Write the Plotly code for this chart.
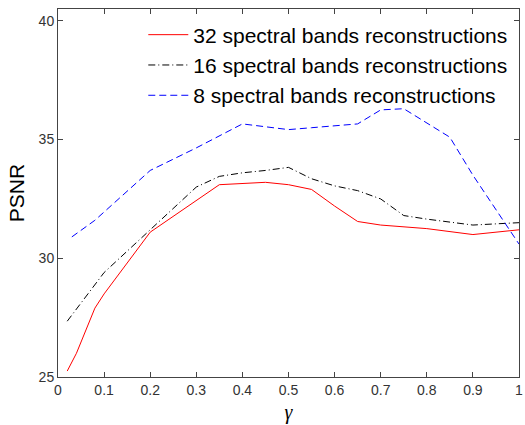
import plotly.graph_objects as go

# PSNR vs. gamma for three spectral band counts
gamma_32 = [0.02, 0.04, 0.08, 0.10, 0.20, 0.35, 0.45, 0.50, 0.55, 0.60, 0.65, 0.70, 0.80, 0.90, 1.00]
psnr_32 = [25.25, 26.0, 27.9, 28.5, 31.1, 33.1, 33.2, 33.1, 32.9, 32.2, 31.55, 31.4, 31.25, 31.0, 31.2]

gamma_16 = [0.02, 0.10, 0.20, 0.30, 0.35, 0.40, 0.45, 0.50, 0.55, 0.60, 0.65, 0.70, 0.75, 0.80, 0.90, 1.00]
psnr_16 = [27.35, 29.4, 31.2, 33.0, 33.45, 33.6, 33.7, 33.83, 33.35, 33.05, 32.85, 32.5, 31.8, 31.65, 31.4, 31.5]

gamma_8 = [0.03, 0.08, 0.20, 0.30, 0.40, 0.45, 0.50, 0.55, 0.60, 0.65, 0.70, 0.75, 0.85, 0.90, 1.00]
psnr_8 = [30.9, 31.6, 33.7, 34.65, 35.66, 35.55, 35.42, 35.5, 35.57, 35.66, 36.25, 36.3, 35.1, 33.5, 30.6]

series_names = [
    "32 spectral bands reconstructions",
    "16 spectral bands reconstructions",
    "8 spectral bands reconstructions",
]

x_ticks = [0, 0.1, 0.2, 0.3, 0.4, 0.5, 0.6, 0.7, 0.8, 0.9, 1]
x_tick_labels = ["0", "0.1", "0.2", "0.3", "0.4", "0.5", "0.6", "0.7", "0.8", "0.9", "1"]
y_ticks = [25, 30, 35, 40]

fig = go.Figure()
fig.add_trace(go.Scatter(x=gamma_32, y=psnr_32, mode="lines", name=series_names[0],
                         line=dict(color="#ff0000", width=1)))
fig.add_trace(go.Scatter(x=gamma_16, y=psnr_16, mode="lines", name=series_names[1],
                         line=dict(color="#000000", width=1, dash="7px,3px,1px,3px")))
fig.add_trace(go.Scatter(x=gamma_8, y=psnr_8, mode="lines", name=series_names[2],
                         line=dict(color="#0000ff", width=1, dash="7px,4px")))

axis_common = dict(
    showline=True, linecolor="#444", linewidth=1, mirror="ticks",
    ticks="inside", ticklen=5, tickcolor="#444",
    showgrid=False, zeroline=False,
    tickfont=dict(family="Liberation Sans, Arial", size=14, color="#333"),
    ticklabeloverflow="allow",
)

fig.update_xaxes(range=[0, 1], tickvals=x_ticks, ticktext=x_tick_labels,
                 title=dict(text="<i>γ</i>", font=dict(family="Liberation Serif", size=20, color="#000"),
                            standoff=8),
                 **axis_common)
fig.update_yaxes(range=[25, 40.5], tickvals=y_ticks,
                 title=dict(text="PSNR", font=dict(family="Liberation Sans, Arial", size=21, color="#000"),
                            standoff=8),
                 **axis_common)

fig.update_layout(
    width=525, height=425,
    margin=dict(l=58, r=6, t=9, b=48, autoexpand=False),
    paper_bgcolor="white", plot_bgcolor="white",
    showlegend=True,
    legend=dict(x=0.185, y=0.985, xanchor="left", yanchor="top",
                bgcolor="rgba(0,0,0,0)", borderwidth=0,
                font=dict(family="Liberation Sans, Arial", size=21, color="#000"),
                itemwidth=40, tracegroupgap=0),
)

fig.write_html("out.html")
